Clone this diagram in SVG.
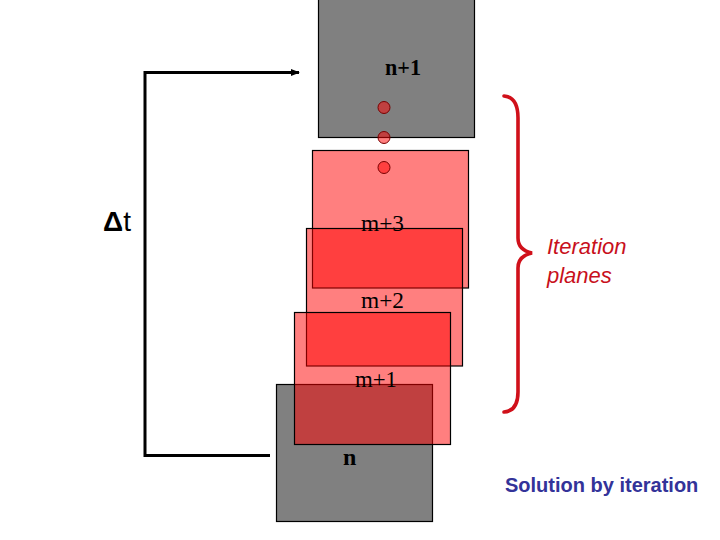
<svg xmlns="http://www.w3.org/2000/svg" width="720" height="540" viewBox="0 0 720 540">
<defs>
<style>
.gray{fill:#808080;stroke:#000;stroke-width:1.2}
.plane{fill:#ff0000;fill-opacity:0.5;stroke:#000;stroke-width:1.2}
.dot{fill:#ff0000;fill-opacity:0.5;stroke:#7a0000;stroke-width:1}
.lbl{font-family:"Liberation Serif","Times New Roman",serif;font-size:24px;fill:#000}
.bold{font-weight:bold}
.conn{fill:none;stroke:#000;stroke-width:3}
</style>
<marker id="ah" viewBox="0 0 10 10" refX="9" refY="5" markerWidth="3" markerHeight="3" orient="auto" markerUnits="strokeWidth">
<path d="M0,1 L10,5 L0,9 Z" fill="#000"/>
</marker>
</defs>
<rect width="720" height="540" fill="#fff"/>
<g id="plane-n"><rect class="gray" x="276.5" y="384.5" width="156" height="137"/></g>
<g id="plane-m3"><rect class="plane" x="312.5" y="150.5" width="156" height="137.5"/></g>
<g id="plane-m2"><rect class="plane" x="306.5" y="228.5" width="156" height="137.5"/></g>
<g id="plane-m1"><rect class="plane" x="294.5" y="312.5" width="156" height="132"/></g>
<g id="plane-n1"><rect class="gray" x="318.5" y="-1" width="156" height="138.5"/></g>
<g id="dots">
<circle class="dot" cx="384" cy="107.5" r="6"/>
<circle class="dot" cx="384" cy="137.5" r="6"/>
<circle class="dot" cx="384" cy="167.5" r="6"/>
</g>
<g id="labels">
<text class="lbl bold" x="385" y="75" textLength="36" lengthAdjust="spacingAndGlyphs">n+1</text>
<text class="lbl" x="361" y="231" textLength="43" lengthAdjust="spacingAndGlyphs">m+3</text>
<text class="lbl" x="361" y="308" textLength="43" lengthAdjust="spacingAndGlyphs">m+2</text>
<text class="lbl" x="355" y="387" textLength="42" lengthAdjust="spacingAndGlyphs">m+1</text>
<text class="lbl bold" x="343" y="465">n</text>
</g>
<g id="connectors">
<path class="conn" d="M270,455.5 H145 V72.5 H299" marker-end="url(#ah)"/>
</g>
<g id="dt"><text x="103" y="231" font-family="Liberation Sans, Arial, sans-serif" font-size="28" fill="#000"><tspan font-weight="bold">Δ</tspan>t</text></g>
<g id="brace">
<path d="M504,96 Q518,97 518,118 V238 Q518,250 532,253 Q518,256 518,268 V392 Q518,411 504,412" fill="none" stroke="#d0101a" stroke-width="3.6" stroke-linecap="round"/>
<text font-family="Liberation Sans, Arial, sans-serif" font-style="italic" font-size="22" fill="#c8101c"><tspan x="547" y="254">Iteration</tspan><tspan x="547" y="283">planes</tspan></text>
</g>
<g id="caption"><text x="505" y="492" font-family="Liberation Sans, Arial, sans-serif" font-weight="bold" font-size="20" fill="#333399">Solution by iteration</text></g>
</svg>
